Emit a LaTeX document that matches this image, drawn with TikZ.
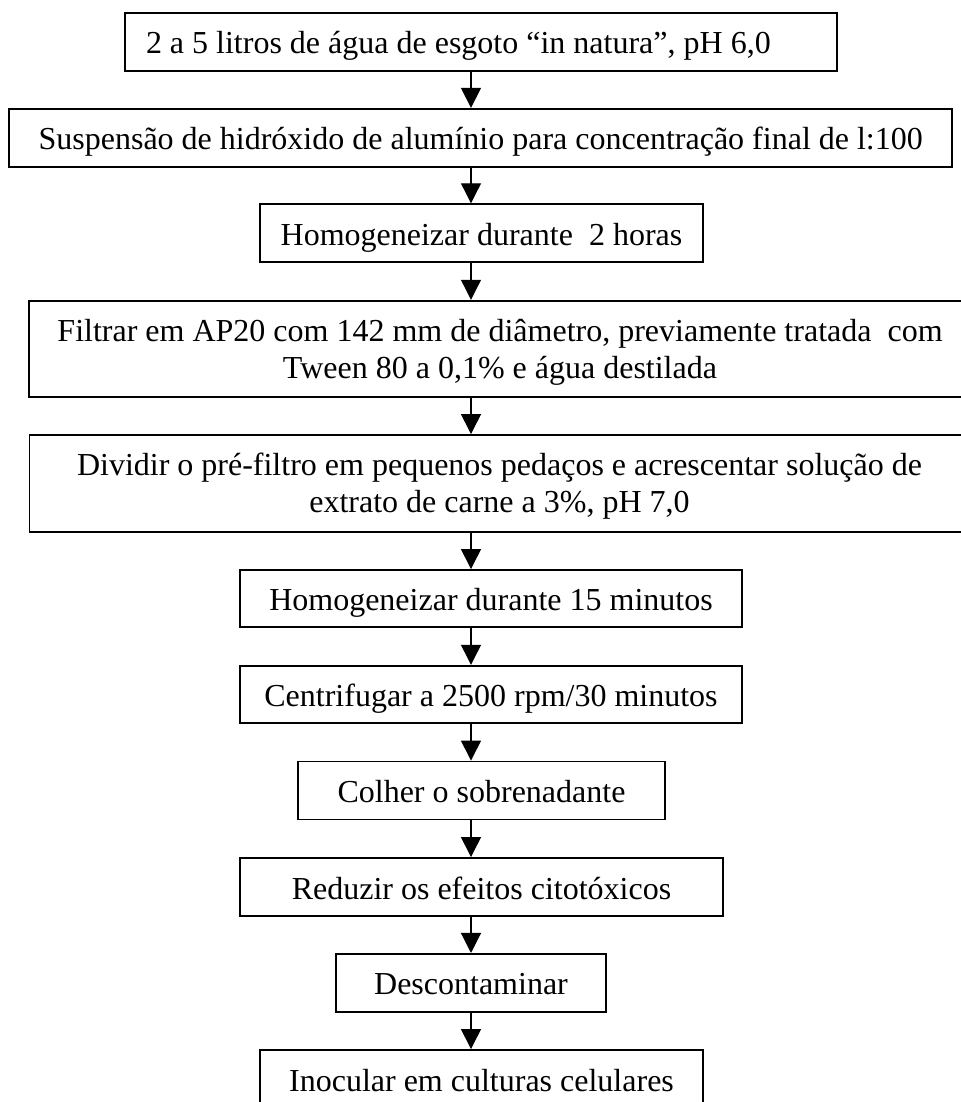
\documentclass[tikz,border=0pt]{standalone}
\usepackage{fontspec}
\setmainfont{Liberation Serif}
\usetikzlibrary{%
  arrows.meta,%
  calc%
}
\tikzset{
  etapa/.style={draw, line width=0.7pt, inner sep=0pt, minimum height=21.75pt,
    text height=11pt, text depth=2pt, font=\fontsize{12}{13.8}\selectfont},
  etapadupla/.style={etapa, minimum height=36pt, text width=345pt, align=flush center,
    text depth=16.6pt},
  seta/.style={-{Triangle[length=7.5pt,width=7.5pt]}, line width=0.45pt}
}

\begin{document}
\begin{tikzpicture}[x=0.375pt, y=-0.375pt]
\useasboundingbox (0,0) rectangle (961,1102);
\coordinate (eixo) at (471,0);

\node[etapa, minimum width=267pt, text width=251.25pt, align=flush left, inner xsep=7.875pt]
  (b1) at (481,41.7) {2 a 5 litros de água de esgoto “in natura”, pH 6,0};
\node[etapa, minimum width=353.6pt] (b2) at (480.7,137.8)
  {Suspensão de hidróxido de alumínio para concentração final de l:100};
\node[etapa, minimum width=166.3pt] (b3) at (481.5,233.2) {Homogeneizar durante\ \ 2 horas};
\node[etapadupla, minimum width=353pt] (b4) at (500,348.7)
  {Filtrar em AP20 com 142 mm de diâmetro, previamente tratada\ \ com\\
   Tween 80 a 0,1\% e água destilada};
\node[etapadupla, minimum width=352.5pt, minimum height=36.3pt] (b5) at (499.5,483.4)
  {Dividir o pré-filtro em pequenos pedaços e acrescentar solução de\\
   extrato de carne a 3\%, pH 7,0};
\node[etapa, minimum width=188.3pt, minimum height=21.3pt] (b6) at (491,598.4)
  {Homogeneizar durante 15 minutos};
\node[etapa, minimum width=188.3pt, minimum height=21.5pt] (b7) at (491,694.4)
  {Centrifugar a 2500 rpm/30 minutos};
\node[etapa, minimum width=137.6pt] (b8) at (481.5,790.5) {Colher o sobrenadante};
\node[etapa, minimum width=181.1pt] (b9) at (481.5,887) {Reduzir os efeitos citotóxicos};
\node[etapa, minimum width=101.3pt] (b10) at (471,982.9) {Descontaminar};
\node[etapa, minimum width=166.3pt] (b11) at (481.5,1079) {Inocular em culturas celulares};

\draw[seta] (b1.south -| eixo) -- (b2.north -| eixo);
\draw[seta] (b2.south -| eixo) -- (b3.north -| eixo);
\draw[seta] (b3.south -| eixo) -- (b4.north -| eixo);
\draw[seta] (b4.south -| eixo) -- (b5.north -| eixo);
\draw[seta] (b5.south -| eixo) -- (b6.north -| eixo);
\draw[seta] (b6.south -| eixo) -- (b7.north -| eixo);
\draw[seta] (b7.south -| eixo) -- (b8.north -| eixo);
\draw[seta] (b8.south -| eixo) -- (b9.north -| eixo);
\draw[seta] (b9.south -| eixo) -- (b10.north -| eixo);
\draw[seta] (b10.south -| eixo) -- (b11.north -| eixo);
\end{tikzpicture}
\end{document}
